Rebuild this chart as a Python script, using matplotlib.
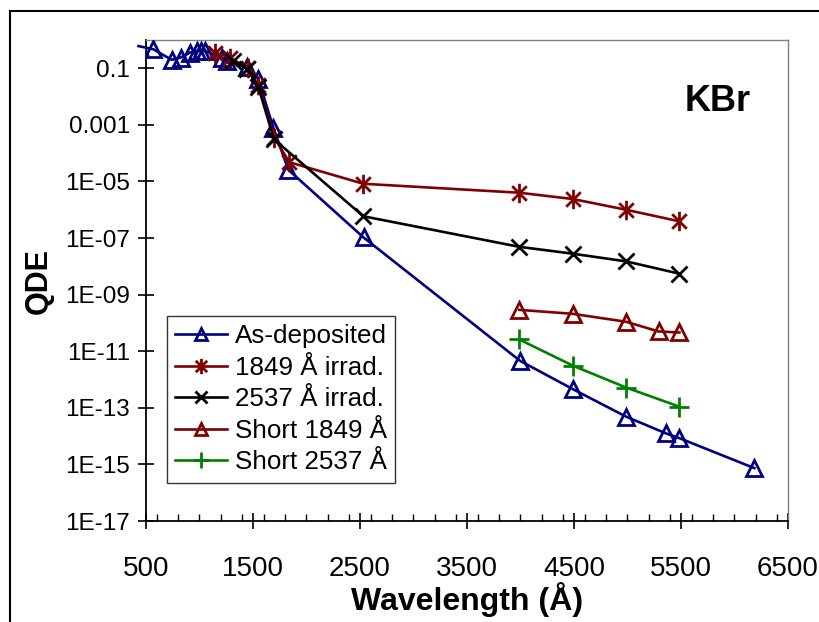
import matplotlib
matplotlib.use("Agg")
import matplotlib.pyplot as plt
from matplotlib.path import Path
from matplotlib.lines import Line2D
from matplotlib.ticker import FixedLocator, FixedFormatter, MultipleLocator, NullLocator

plt.rcParams['font.family'] = ['Liberation Sans', 'DejaVu Sans']

# ---------------- data ----------------
wl_asdep = [430, 568, 740, 824, 911, 974, 1011, 1051, 1208, 1254, 1443, 1550, 1690, 1830,
            2533, 3995, 4488, 4986, 5357, 5484, 6185]
qde_asdep = [0.61, 0.47, 0.20, 0.24, 0.36, 0.41, 0.41, 0.41, 0.24, 0.18, 0.11, 0.041, 7.9e-4, 2.6e-5,
             1.05e-7, 4.6e-12, 4.6e-13, 4.9e-14, 1.26e-14, 8.5e-15, 7.4e-16]

wl_1849 = [1145, 1285, 1450, 1550, 1700, 1839, 2531, 3989, 4489, 4987, 5485]
qde_1849 = [0.36, 0.24, 0.10, 0.025, 3.5e-4, 4.8e-5, 8.3e-6, 4.0e-6, 2.4e-6, 1.0e-6, 3.9e-7]

wl_2537 = [1316, 1447, 1550, 1696, 2531, 3989, 4489, 4987, 5485]
qde_2537 = [0.18, 0.098, 0.022, 3.1e-4, 5.9e-7, 4.9e-8, 2.8e-8, 1.5e-8, 5.5e-9]

wl_short1849 = [3989, 4489, 4987, 5290, 5485]
qde_short1849 = [2.9e-10, 2.1e-10, 1.1e-10, 5.0e-11, 4.6e-11]

wl_short2537 = [3989, 4489, 4987, 5485]
qde_short2537 = [2.6e-11, 3.1e-12, 5.2e-13, 1.1e-13]

labels = ["As-deposited", "1849 Å irrad.", "2537 Å irrad.", "Short 1849 Å", "Short 2537 Å"]

y_tick_vals = [1e-1, 1e-3, 1e-5, 1e-7, 1e-9, 1e-11, 1e-13, 1e-15, 1e-17]
y_tick_labels = ["0.1", "0.001", "1E-05", "1E-07", "1E-09", "1E-11", "1E-13", "1E-15", "1E-17"]
x_tick_vals = [500, 1500, 2500, 3500, 4500, 5500, 6500]

# ---------------- style ----------------
NAVY = "#000080"
MAROON = "#800000"
GREEN = "#008000"

aster = Path([(0, -1), (0, 1), (-0.75, -0.75), (0.75, 0.75), (-0.75, 0.75), (0.75, -0.75)],
             [Path.MOVETO, Path.LINETO, Path.MOVETO, Path.LINETO, Path.MOVETO, Path.LINETO])

W, H = 820, 622
fig = plt.figure(figsize=(W / 100, H / 100), dpi=100)
fig.patch.set_facecolor("white")

# outer chart border (left + top visible)
fig.add_artist(Line2D([10 / W, 10 / W], [0, 1 - 11 / H], transform=fig.transFigure, color="black", lw=1.5))
fig.add_artist(Line2D([10 / W, 1], [1 - 11 / H, 1 - 11 / H], transform=fig.transFigure, color="black", lw=1.5))

ax_l, ax_r, ax_t, ax_b = 146, 788, 40, 521
ax = fig.add_axes([ax_l / W, 1 - ax_b / H, (ax_r - ax_l) / W, (ax_b - ax_t) / H])
ax.set_yscale("log")
ax.set_xlim(500, 6500)
ax.set_ylim(1e-17, 1)

lw = 1.9
# As-deposited: line (unclipped, Excel-like) + markers
ax.plot(wl_asdep, qde_asdep, color=NAVY, lw=lw, clip_on=False, zorder=3)
ax.plot(wl_asdep, qde_asdep, color=NAVY, lw=0, marker="^", ms=12, mew=2, mfc="none", zorder=4)
ax.plot(wl_1849, qde_1849, color=MAROON, lw=lw, marker=aster, ms=14, mew=2, zorder=5)
ax.plot(wl_2537, qde_2537, color="black", lw=lw, marker="x", ms=12, mew=2, zorder=6)
ax.plot(wl_short1849, qde_short1849, color=MAROON, lw=lw, marker="^", ms=12, mew=2, mfc="none", zorder=5)
ax.plot(wl_short2537, qde_short2537, color=GREEN, lw=lw, marker="+", ms=14, mew=2, zorder=5)

# legend handles
handles = [
    Line2D([], [], color=NAVY, lw=lw, marker="^", ms=9, mew=2, mfc="none"),
    Line2D([], [], color=MAROON, lw=lw, marker=aster, ms=11, mew=2),
    Line2D([], [], color="black", lw=lw, marker="x", ms=9, mew=2),
    Line2D([], [], color=MAROON, lw=lw, marker="^", ms=9, mew=2, mfc="none"),
    Line2D([], [], color=GREEN, lw=lw, marker="+", ms=11, mew=2),
]
leg = ax.legend(handles, labels, loc="lower left", bbox_to_anchor=(0.032, 0.079),
                borderaxespad=0, fontsize=18.7, frameon=True, fancybox=False,
                edgecolor="black", handlelength=2.0, handletextpad=0.3,
                labelspacing=0.29, borderpad=0.33)
leg.get_frame().set_linewidth(1.0)
leg.set_zorder(10)

# spines
for s in ["left", "bottom"]:
    ax.spines[s].set_color("black")
    ax.spines[s].set_linewidth(1.3)
for s in ["top", "right"]:
    ax.spines[s].set_color("#808080")
    ax.spines[s].set_linewidth(1.0)

# ticks
ax.yaxis.set_major_locator(FixedLocator(y_tick_vals))
ax.yaxis.set_major_formatter(FixedFormatter(y_tick_labels))
ax.yaxis.set_minor_locator(NullLocator())
ax.xaxis.set_major_locator(FixedLocator(x_tick_vals))
ax.xaxis.set_minor_locator(MultipleLocator(200))
ax.tick_params(axis="y", which="major", direction="inout", length=11.5, width=1.2,
               labelsize=17.5, pad=6)
ax.tick_params(axis="x", which="major", direction="inout", length=12, width=1.2,
               labelsize=20, pad=19)
ax.tick_params(axis="x", which="minor", direction="in", length=5, width=1.0)

ax.set_xlabel("Wavelength (Å)", fontsize=23, fontweight="bold", labelpad=0)
ax.set_ylabel("QDE", fontsize=22, fontweight="bold", labelpad=8)

ax.text(0.891, 0.873, "KBr", fontsize=26, fontweight="bold", ha="center", va="center",
        transform=ax.transAxes)

fig.savefig("out.png", dpi=100, facecolor="white")
